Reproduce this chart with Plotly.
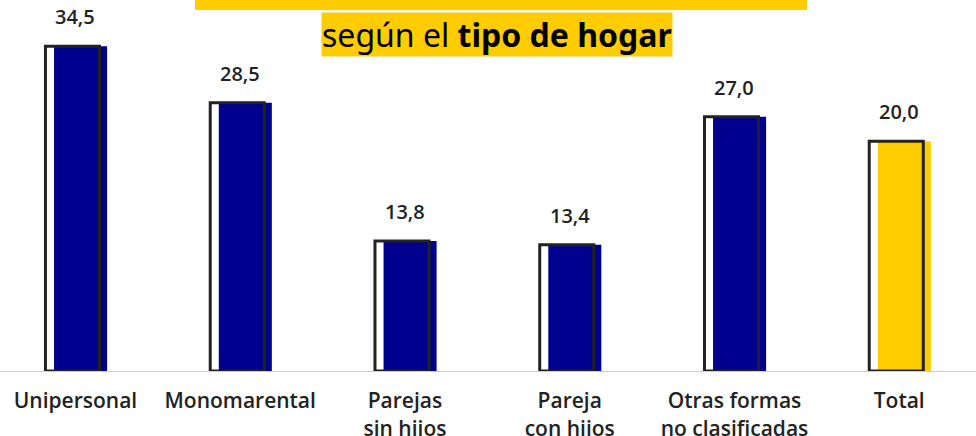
import plotly.graph_objects as go

categories = ["Unipersonal", "Monomarental", "Parejas<br>sin hijos", "Pareja<br>con hijos",
              "Otras formas<br>no clasificadas", "Total"]
# bar heights as drawn in the picture
values = [34.5, 28.5, 13.8, 13.4, 27.0, 24.4]
# value labels as printed
value_labels = ["34,5", "28,5", "13,8", "13,4", "27,0", "20,0"]
bar_colors = ["#00008F", "#00008F", "#00008F", "#00008F", "#00008F", "#FFCC00"]

x_idx = list(range(len(categories)))

W, H = 976, 436
PLOT_BOTTOM = 371
FONT = "Open Sans"
DARK = "#222222"

fig = go.Figure()

# coloured bars
fig.add_trace(go.Bar(
    x=x_idx, y=values,
    width=0.322, offset=-0.13,
    marker=dict(color=bar_colors, line=dict(width=0)),
    hoverinfo="skip",
))
# outlined frames (no fill), shifted left
fig.add_trace(go.Bar(
    x=x_idx, y=values,
    width=0.328, offset=-0.182,
    marker=dict(color="rgba(0,0,0,0)", line=dict(color=DARK, width=3)),
    hoverinfo="skip",
))

annotations = []
for xi, v, lab in zip(x_idx, values, value_labels):
    annotations.append(dict(
        x=xi, y=v, text=lab, showarrow=False, xanchor="center", yanchor="bottom",
        yshift=14, font=dict(family=FONT, size=20, color=DARK, weight=600),
    ))

# title with highlight
annotations.append(dict(
    xref="paper", yref="paper", x=497 / W, y=1 - 34 / PLOT_BOTTOM,
    xanchor="center", yanchor="middle", showarrow=False,
    text="según el <b>tipo de hogar</b>",
    font=dict(family="Noto Sans", size=32, color="#000000"),
    bgcolor="#FFCC00", borderpad=0,
))

shapes = [dict(
    type="rect", xref="paper", yref="paper",
    x0=195 / W, x1=807 / W, y0=1 - 10 / PLOT_BOTTOM, y1=1.0,
    fillcolor="#FFCC00", line=dict(width=0), layer="above",
)]

fig.update_layout(
    width=W, height=H,
    margin=dict(l=0, r=0, t=0, b=H - PLOT_BOTTOM, autoexpand=False),
    paper_bgcolor="white", plot_bgcolor="white",
    barmode="overlay", showlegend=False,
    annotations=annotations, shapes=shapes,
    xaxis=dict(
        range=[-0.458, 5.466], tickmode="array", tickvals=x_idx, ticktext=categories,
        showgrid=False, zeroline=False, showline=True, linecolor="#cccccc", linewidth=1,
        ticks="", tickfont=dict(family=FONT, size=21, color=DARK, weight=600),
        ticklabelstandoff=11, automargin=False,
    ),
    yaxis=dict(range=[0, 39.4], visible=False, showgrid=False, zeroline=False,
               automargin=False),
)

fig.write_html("out.html", config={"displayModeBar": False},
               post_script="document.body.style.margin='0';document.body.style.overflow='hidden';")
